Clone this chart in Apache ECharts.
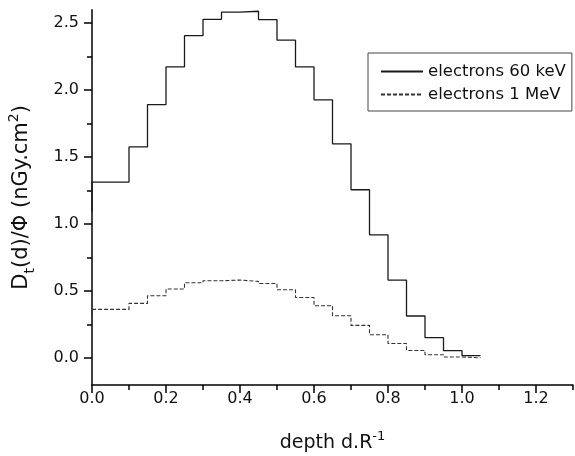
<!DOCTYPE html>
<html>
<head>
<meta charset="utf-8">
<script src="https://cdn.jsdelivr.net/npm/echarts@6/dist/echarts.min.js"></script>
<style>
html,body{margin:0;padding:0;background:#fff;}
#chart{width:575px;height:456px;}
</style>
</head>
<body>
<div id="chart"></div>
<script>
// ---- data ----
const seriesNames = ['electrons 60 keV', 'electrons 1 MeV'];
// step positions (bin left edges; last entry closes the final bin)
const depth = [0, 0, 0.10, 0.15, 0.20, 0.25, 0.30, 0.35, 0.40, 0.45, 0.50, 0.55,
               0.60, 0.65, 0.70, 0.75, 0.80, 0.85, 0.90, 0.95, 1.00, 1.05];
const dose60keV = [1.095, 1.314, 1.577, 1.893, 2.174, 2.407, 2.529, 2.582, 2.589, 2.527, 2.373, 2.174,
                   1.928, 1.600, 1.257, 0.921, 0.583, 0.315, 0.153, 0.056, 0.019, 0.019];
const dose1MeV = [0.320, 0.364, 0.409, 0.466, 0.516, 0.563, 0.578, 0.583, 0.573, 0.558, 0.511, 0.453,
                  0.391, 0.317, 0.245, 0.175, 0.110, 0.058, 0.026, 0.009, 0.003, 0.003];
const xTicks = [0, 0.2, 0.4, 0.6, 0.8, 1.0, 1.2];
const xMinorTicks = [0.1, 0.3, 0.5, 0.7, 0.9, 1.1, 1.3];
const yTicks = [0, 0.5, 1.0, 1.5, 2.0, 2.5];
const yMinorTicks = [0.25, 0.75, 1.25, 1.75, 2.25];

const FONT = 'DejaVu Sans';
const pairs = (xs, ys) => xs.map((x, i) => [x, ys[i]]);

const chart = echarts.init(document.getElementById('chart'), null, {renderer: 'canvas'});
const axisLine = {show: true, onZero: false, lineStyle: {color: '#000', width: 1.5}};

const option = {
  backgroundColor: '#fff',
  animation: false,
  grid: {left: 92, right: 2, top: 9.8, bottom: 71, containLabel: false, outerBoundsMode: 'none'},
  legend: {
    orient: 'vertical',
    left: 368, top: 53,
    padding: [10, 6, 8, 12],
    borderColor: '#444', borderWidth: 1,
    itemWidth: 42, itemHeight: 14, itemGap: 6,
    itemStyle: {opacity: 0},
    textStyle: {fontFamily: FONT, fontSize: 16.5, color: '#111', lineHeight: 16},
    data: seriesNames
  },
  xAxis: [{
    type: 'value', min: 0, max: 1.3,
    axisLine: axisLine,
    axisTick: {show: true, inside: false, length: 8, lineStyle: {color: '#000', width: 1.5}, customValues: xTicks},
    axisLabel: {show: true, margin: 6, fontFamily: FONT, fontSize: 16, color: '#111', customValues: xTicks,
      formatter: v => v.toFixed(1)},
    splitLine: {show: false},
    name: 'depth d.R{sup|-1}',
    nameLocation: 'middle', nameGap: 45,
    nameTextStyle: {fontFamily: FONT, fontSize: 19, color: '#111', lineHeight: 26,
      rich: {sup: {fontFamily: FONT, fontSize: 13, color: '#111', verticalAlign: 'top', lineHeight: 13}}}
  }, {
    type: 'value', min: 0, max: 1.3, position: 'bottom',
    axisLine: {show: false, onZero: false},
    axisTick: {show: true, inside: false, length: 5, lineStyle: {color: '#000', width: 1.5}, customValues: xMinorTicks},
    axisLabel: {show: false}, splitLine: {show: false}
  }],
  yAxis: [{
    type: 'value', min: -0.2, max: 2.6,
    axisLine: axisLine,
    axisTick: {show: true, inside: false, length: 8, lineStyle: {color: '#000', width: 1.5}, customValues: yTicks},
    axisLabel: {show: true, margin: 13, fontFamily: FONT, fontSize: 16, color: '#111', customValues: yTicks,
      formatter: v => v.toFixed(1)},
    splitLine: {show: false},
    name: 'D{sub|t}(d)/Φ (nGy.cm{sup|2})',
    nameLocation: 'middle', nameRotate: 90, nameGap: 55,
    nameTextStyle: {fontFamily: FONT, fontSize: 21, color: '#111', lineHeight: 30,
      rich: {
        sub: {fontFamily: FONT, fontSize: 14, color: '#111', verticalAlign: 'bottom', lineHeight: 14},
        sup: {fontFamily: FONT, fontSize: 14, color: '#111', verticalAlign: 'top', lineHeight: 14}
      }}
  }, {
    type: 'value', min: -0.2, max: 2.6, position: 'left',
    axisLine: {show: false, onZero: false},
    axisTick: {show: true, inside: false, length: 5, lineStyle: {color: '#000', width: 1.5}, customValues: yMinorTicks},
    axisLabel: {show: false}, splitLine: {show: false}
  }],
  series: [{
    name: seriesNames[0], type: 'line', step: 'end',
    xAxisIndex: 0, yAxisIndex: 0,
    symbol: 'none', showSymbol: false,
    data: pairs(depth, dose60keV),
    lineStyle: {color: '#1a1a1a', width: 1.3, type: 'solid'},
    itemStyle: {color: '#1a1a1a'}
  }, {
    name: seriesNames[1], type: 'line', step: 'end',
    xAxisIndex: 0, yAxisIndex: 0,
    symbol: 'none', showSymbol: false,
    data: pairs(depth, dose1MeV),
    lineStyle: {color: '#333', width: 1.1, type: [4, 2]},
    itemStyle: {color: '#333'}
  }]
};
chart.setOption(option);
</script>
</body>
</html>
